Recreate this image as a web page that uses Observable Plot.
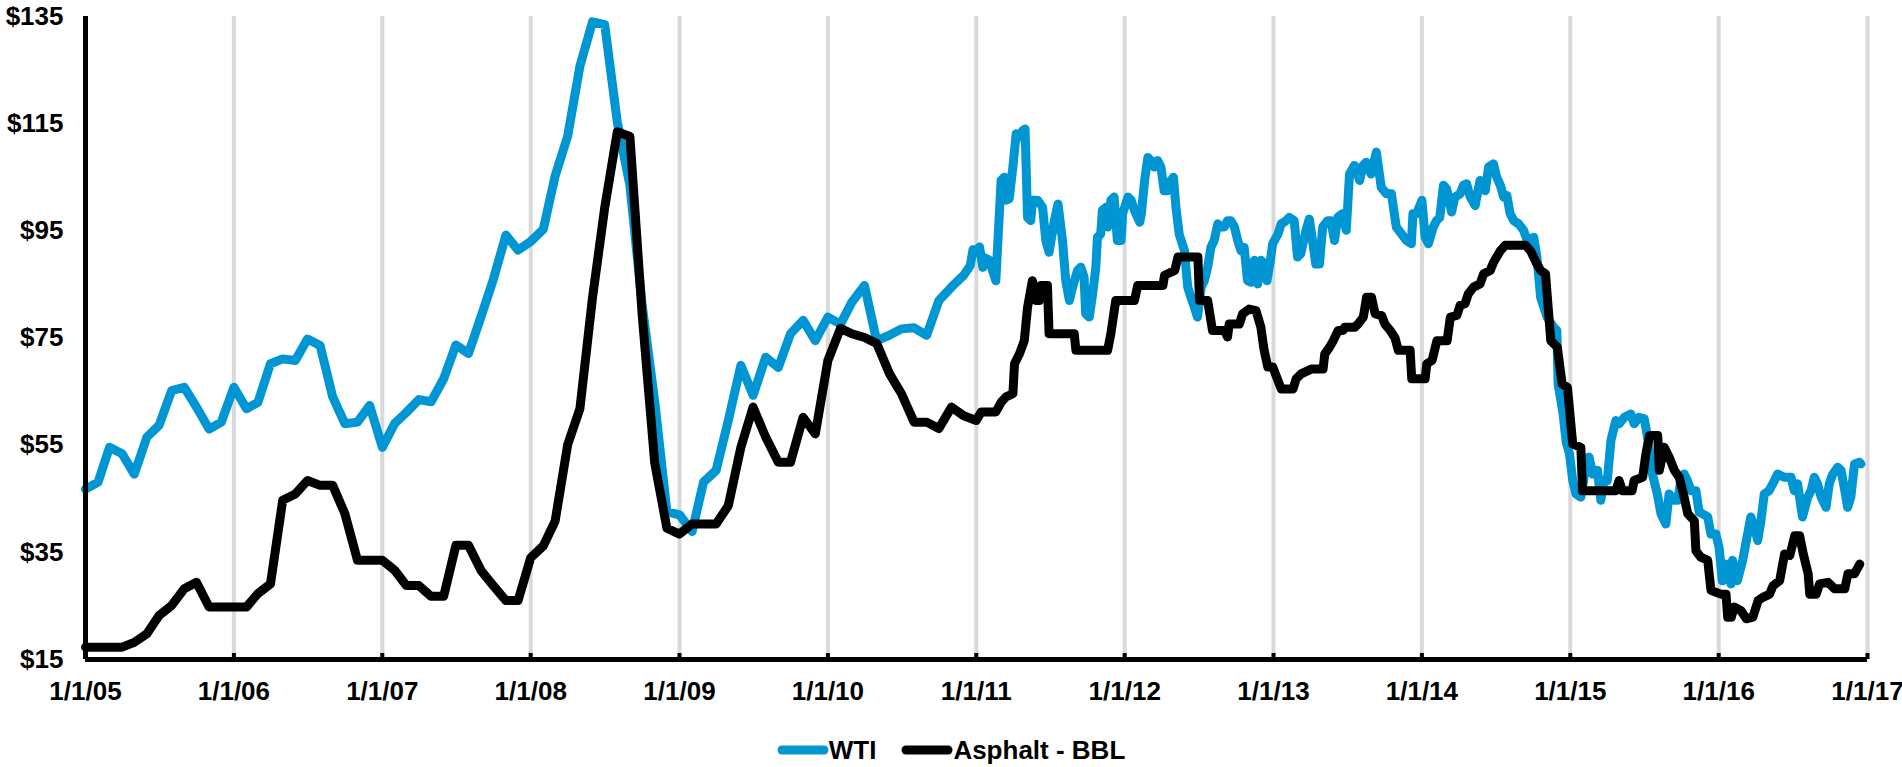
<!DOCTYPE html>
<html>
<head>
<meta charset="utf-8">
<script src="https://cdn.jsdelivr.net/npm/d3@7"></script>
<script src="https://cdn.jsdelivr.net/npm/@observablehq/plot@0.6"></script>
<style>
  html, body { margin: 0; padding: 0; background: #fff; }
  body { font-family: "Liberation Sans", Arial, sans-serif; }
  #legend { display: flex; justify-content: center; align-items: center; height: 30px; line-height: 30px; margin-top: 20px; font-weight: bold; font-size: 26px; color: #000; }
  #legend .item { display: flex; align-items: center; }
  #legend .item + .item { margin-left: 25px; }
  #legend svg { display: block; }
</style>
</head>
<body>
<div id="chart"></div>
<div id="legend"></div>
<script>
// ---- Data ----
const seriesNames = ["WTI", "Asphalt - BBL"];
const seriesColors = ["#0095d3", "#000000"];

const wti = [
  ["2005-01-01",46.8],["2005-02-01",48.1],["2005-03-01",54.6],["2005-04-01",53.4],["2005-05-01",49.6],["2005-06-01",56.5],
  ["2005-07-01",58.7],["2005-08-01",65.2],["2005-09-01",65.8],["2005-10-01",62.1],["2005-11-01",58.0],["2005-12-01",59.3],
  ["2006-01-01",65.8],["2006-02-01",61.8],["2006-03-01",63.0],["2006-04-01",70.2],["2006-05-01",71.1],["2006-06-01",70.8],
  ["2006-07-01",74.8],["2006-08-01",73.6],["2006-09-01",64.0],["2006-10-01",59.0],["2006-11-01",59.3],["2006-12-01",62.4],
  ["2007-01-01",54.6],["2007-02-01",59.1],["2007-03-01",61.1],["2007-04-01",63.5],["2007-05-01",63.1],["2007-06-01",67.4],
  ["2007-07-01",73.7],["2007-08-01",72.1],["2007-09-01",79.0],["2007-10-01",85.9],["2007-11-01",94.2],["2007-12-01",91.4],
  ["2008-01-01",93.0],["2008-02-01",95.3],["2008-03-01",105.2],["2008-04-01",112.7],["2008-05-01",125.7],["2008-06-01",134.0],
  ["2008-07-01",133.5],["2008-08-01",115.3],["2008-09-01",103.5],["2008-10-01",81.3],["2008-11-01",63.2],["2008-12-01",42.6],
  ["2009-01-01",42.0],["2009-02-01",38.9],["2009-03-01",48.1],["2009-04-01",50.3],["2009-05-01",59.6],["2009-06-01",69.9],
  ["2009-07-01",64.3],["2009-08-01",71.4],["2009-09-01",69.5],["2009-10-01",75.8],["2009-11-01",78.3],["2009-12-01",74.5],
  ["2010-01-01",78.9],["2010-02-01",77.6],["2010-03-01",81.7],["2010-04-01",84.8],["2010-05-01",74.5],["2010-06-01",75.5],
  ["2010-07-01",76.7],["2010-08-01",76.9],["2010-09-01",75.5],["2010-10-01",82.0],["2010-11-01",84.5],["2010-12-01",86.7],
  ["2010-12-17",88.5],["2010-12-24",91.5],
  ["2011-01-01",91.0],["2011-01-09",92.0],["2011-01-17",88.2],["2011-01-21",90.0],["2011-02-02",89.5],["2011-02-18",85.7],
  ["2011-03-03",104.4],["2011-03-11",105.0],["2011-03-15",100.7],["2011-03-23",101.0],["2011-04-01",106.9],["2011-04-09",113.1],
  ["2011-04-17",112.5],["2011-04-25",113.7],["2011-05-01",114.0],["2011-05-07",97.5],["2011-05-15",96.9],["2011-05-19",100.7],
  ["2011-06-01",100.7],["2011-06-13",99.4],["2011-06-21",93.2],["2011-06-29",91.0],["2011-07-12",96.9],["2011-07-21",100.0],
  ["2011-08-01",93.2],["2011-08-09",85.7],["2011-08-18",82.0],["2011-08-26",84.5],["2011-09-07",87.6],["2011-09-15",88.2],
  ["2011-09-23",86.4],["2011-09-27",79.5],["2011-10-06",78.9],["2011-10-14",83.2],["2011-10-22",88.2],["2011-10-26",93.8],
  ["2011-11-03",94.4],["2011-11-07",98.8],["2011-11-16",99.4],["2011-11-20",95.7],["2011-11-28",100.7],["2011-12-06",101.3],
  ["2011-12-14",93.2],["2011-12-23",93.2],["2011-12-27",98.2],
  ["2012-01-01",99.4],["2012-01-09",101.3],["2012-01-17",100.7],["2012-01-25",98.8],["2012-02-07",96.6],["2012-02-11",98.2],
  ["2012-02-19",104.4],["2012-02-27",108.7],["2012-03-06",108.1],["2012-03-14",106.9],["2012-03-22",108.1],["2012-03-30",106.9],
  ["2012-04-07",102.5],["2012-04-15",102.5],["2012-04-24",104.4],["2012-04-30",105.0],["2012-05-06",99.4],["2012-05-14",94.4],
  ["2012-05-27",91.3],["2012-06-04",84.5],["2012-06-12",82.6],["2012-06-20",80.8],["2012-06-28",78.9],["2012-07-07",84.5],
  ["2012-07-15",85.7],["2012-07-23",88.2],["2012-07-31",91.9],["2012-08-08",93.2],["2012-08-17",96.3],["2012-08-25",95.7],
  ["2012-09-02",95.7],["2012-09-10",96.9],["2012-09-18",96.9],["2012-09-27",95.7],["2012-10-05",93.2],["2012-10-13",91.3],
  ["2012-10-21",91.9],["2012-10-29",85.7],["2012-11-07",85.4],["2012-11-15",89.5],["2012-11-23",85.1],["2012-12-01",89.5],
  ["2012-12-09",88.8],["2012-12-16",85.7],["2012-12-23",88.8],["2012-12-30",92.6],
  ["2013-01-12",94.4],["2013-01-20",96.3],["2013-02-01",96.9],["2013-02-09",97.5],["2013-02-21",96.9],["2013-03-01",90.1],
  ["2013-03-09",90.7],["2013-03-22",95.1],["2013-03-30",97.2],["2013-04-07",93.2],["2013-04-15",88.8],["2013-04-24",88.8],
  ["2013-05-02",95.7],["2013-05-14",96.9],["2013-05-22",96.9],["2013-05-31",93.2],["2013-06-08",97.5],["2013-06-20",98.2],
  ["2013-06-29",95.1],["2013-07-07",105.6],["2013-07-19",107.2],["2013-08-01",104.4],["2013-08-09",107.2],["2013-08-17",107.8],
  ["2013-08-29",105.6],["2013-09-11",109.7],["2013-09-23",103.1],["2013-10-06",101.9],["2013-10-18",101.9],["2013-10-30",95.7],
  ["2013-11-12",94.4],["2013-11-24",93.2],["2013-12-06",92.6],["2013-12-10",98.2],["2013-12-19",98.2],
  ["2014-01-01",100.7],["2014-01-09",93.8],["2014-01-17",92.6],["2014-01-29",95.7],["2014-02-06",96.9],["2014-02-14",97.5],
  ["2014-02-23",103.5],["2014-03-03",102.8],["2014-03-15",98.5],["2014-03-23",101.3],["2014-04-05",101.9],["2014-04-13",103.5],
  ["2014-04-21",103.8],["2014-04-30",101.3],["2014-05-12",99.7],["2014-05-24",104.4],["2014-06-06",102.5],["2014-06-14",106.9],
  ["2014-06-26",107.5],["2014-07-04",105.0],["2014-07-13",103.5],["2014-07-21",101.3],["2014-07-29",101.6],["2014-08-06",98.2],
  ["2014-08-15",96.9],["2014-08-27",96.3],["2014-09-08",95.1],["2014-09-17",93.2],["2014-10-03",93.8],["2014-10-11",90.1],
  ["2014-10-20",82.6],["2014-10-28",80.7],["2014-11-05",78.9],["2014-11-21",77.0],["2014-11-29",76.4],["2014-12-02",66.4],
  ["2014-12-14",61.0],["2014-12-22",55.5],["2014-12-30",53.4],
  ["2015-01-07",48.4],["2015-01-15",45.9],["2015-01-27",45.3],["2015-02-08",50.9],["2015-02-16",52.8],["2015-02-25",49.6],
  ["2015-03-09",50.3],["2015-03-17",44.7],["2015-03-25",48.4],["2015-04-02",48.4],["2015-04-11",55.9],["2015-04-23",59.6],
  ["2015-05-01",59.0],["2015-05-14",60.2],["2015-05-30",60.8],["2015-06-07",59.0],["2015-06-19",60.2],["2015-07-02",59.9],
  ["2015-07-10",56.5],["2015-07-22",49.6],["2015-08-03",45.9],["2015-08-12",42.2],["2015-08-24",40.3],["2015-09-01",45.9],
  ["2015-09-14",44.7],["2015-09-22",44.7],["2015-09-30",48.4],["2015-10-08",49.6],["2015-10-16",48.4],["2015-10-25",46.5],
  ["2015-11-06",46.5],["2015-11-14",42.5],["2015-11-22",42.2],["2015-12-05",41.6],["2015-12-13",38.4],["2015-12-25",38.4],
  ["2016-01-02",35.9],["2016-01-10",29.7],["2016-01-19",32.8],["2016-01-31",29.1],["2016-02-04",33.5],["2016-02-16",29.7],
  ["2016-02-29",33.5],["2016-03-12",38.4],["2016-03-20",41.6],["2016-03-29",39.7],["2016-04-06",37.2],["2016-04-14",40.9],
  ["2016-04-22",45.9],["2016-05-04",46.5],["2016-05-13",47.8],["2016-05-25",49.6],["2016-06-10",49.0],["2016-06-27",49.0],
  ["2016-07-05",46.5],["2016-07-13",47.8],["2016-07-25",41.6],["2016-08-07",45.3],["2016-08-15",46.5],["2016-08-23",49.0],
  ["2016-08-31",47.8],["2016-09-09",45.3],["2016-09-21",43.4],["2016-09-29",47.8],["2016-10-07",49.5],["2016-10-20",50.9],
  ["2016-10-28",50.3],["2016-11-05",47.0],["2016-11-13",43.4],["2016-11-21",45.3],["2016-11-30",51.5],["2016-12-12",51.8],
  ["2016-12-16",51.5]
];

const asphalt = [
  ["2005-01-01",17.3],["2005-02-01",17.3],["2005-03-01",17.3],["2005-04-01",17.3],["2005-05-01",18.2],["2005-06-01",19.8],
  ["2005-07-01",23.2],["2005-08-01",25.1],["2005-09-01",28.2],["2005-10-01",29.4],["2005-11-01",24.8],["2005-12-01",24.8],
  ["2006-01-01",24.8],["2006-02-01",24.8],["2006-03-01",27.3],["2006-04-01",29.1],["2006-05-01",44.7],["2006-06-01",45.9],
  ["2006-07-01",48.4],["2006-08-01",47.5],["2006-09-01",47.5],["2006-10-01",42.2],["2006-11-01",33.5],["2006-12-01",33.5],
  ["2007-01-01",33.5],["2007-02-01",31.6],["2007-03-01",28.8],["2007-04-01",28.8],["2007-05-01",26.8],["2007-06-01",26.8],
  ["2007-07-01",36.3],["2007-08-01",36.3],["2007-09-01",31.6],["2007-10-01",28.8],["2007-11-01",26.0],["2007-12-01",26.0],
  ["2008-01-01",34.0],["2008-02-01",36.2],["2008-03-01",40.8],["2008-04-01",55.1],["2008-05-01",61.8],["2008-06-01",82.5],
  ["2008-07-01",99.3],["2008-08-01",113.5],["2008-09-01",112.6],["2008-10-01",79.5],["2008-11-01",51.7],["2008-12-01",39.5],
  ["2009-01-01",38.4],["2009-02-01",40.3],["2009-03-01",40.3],["2009-04-01",40.3],["2009-05-01",43.7],["2009-06-01",54.6],
  ["2009-07-01",62.1],["2009-08-01",56.5],["2009-09-01",51.8],["2009-10-01",51.8],["2009-11-01",60.2],["2009-12-01",57.1],
  ["2010-01-01",70.8],["2010-02-01",76.8],["2010-03-01",75.8],["2010-04-01",75.1],["2010-05-01",74.0],["2010-06-01",68.4],
  ["2010-07-01",64.6],["2010-08-01",59.3],["2010-09-01",59.3],["2010-10-01",58.1],["2010-11-01",62.1],["2010-12-01",60.5],
  ["2011-01-01",59.6],["2011-01-13",61.2],["2011-02-18",61.2],["2011-03-03",63.0],["2011-03-15",64.0],["2011-04-01",64.6],
  ["2011-04-05",70.2],["2011-04-17",72.0],["2011-04-29",74.5],["2011-05-07",80.7],["2011-05-19",85.7],["2011-05-28",82.0],
  ["2011-06-05",82.0],["2011-06-09",84.8],["2011-06-25",84.8],["2011-06-29",75.8],["2011-08-30",75.8],["2011-09-03",72.7],
  ["2011-11-20",72.7],["2011-11-28",75.8],["2011-12-10",82.0],
  ["2012-01-25",82.0],["2012-02-02",84.8],["2012-04-04",84.8],["2012-04-08",86.7],["2012-05-03",87.6],["2012-05-11",90.1],
  ["2012-06-29",90.1],["2012-07-03",82.0],["2012-07-23",82.0],["2012-08-04",76.4],["2012-09-02",76.4],["2012-09-10",75.2],
  ["2012-09-14",77.6],["2012-10-09",77.6],["2012-10-17",79.5],["2012-11-02",80.4],["2012-11-19",80.1],["2012-12-01",77.0],
  ["2012-12-09",72.7],["2012-12-18",69.6],["2012-12-30",69.6],
  ["2013-01-20",65.5],["2013-02-18",65.5],["2013-02-26",67.4],["2013-03-10",68.3],["2013-04-04",69.2],["2013-05-03",69.2],
  ["2013-05-07",72.0],["2013-05-19",73.3],["2013-05-28",74.5],["2013-06-09",76.4],["2013-06-21",76.4],["2013-06-25",77.0],
  ["2013-07-20",77.0],["2013-07-28",77.6],["2013-08-10",78.9],["2013-08-18",82.6],["2013-08-30",82.6],["2013-09-08",79.5],
  ["2013-09-24",79.2],["2013-10-02",77.6],["2013-10-15",76.4],["2013-10-27",75.0],["2013-11-04",72.7],["2013-12-03",72.7],
  ["2013-12-07",67.4],
  ["2014-01-09",67.4],["2014-01-13",70.2],["2014-01-26",70.8],["2014-02-07",74.5],["2014-03-04",74.5],["2014-03-12",78.9],
  ["2014-03-28",79.2],["2014-04-05",81.1],["2014-04-17",81.4],["2014-04-25",83.2],["2014-05-08",84.5],["2014-05-24",85.1],
  ["2014-06-02",87.0],["2014-06-18",87.6],["2014-06-26",89.1],["2014-07-13",91.3],["2014-07-25",92.3],["2014-09-13",92.3],
  ["2014-09-25",91.3],["2014-10-11",88.8],["2014-10-20",87.6],["2014-11-01",87.0],["2014-11-14",74.5],["2014-11-30",73.3],
  ["2014-12-12",66.4],["2014-12-25",65.8],
  ["2015-01-07",55.2],["2015-01-27",54.6],["2015-01-31",46.5],["2015-04-23",46.5],["2015-05-01",48.4],["2015-05-09",46.5],
  ["2015-06-02",46.5],["2015-06-07",48.4],["2015-06-28",49.0],["2015-07-06",53.4],["2015-07-15",56.8],["2015-08-04",56.8],
  ["2015-08-08",50.3],["2015-08-20",54.6],["2015-09-01",52.8],["2015-09-14",50.3],["2015-09-26",49.0],["2015-10-08",45.3],
  ["2015-10-17",42.2],["2015-11-02",40.9],["2015-11-06",35.3],["2015-11-18",34.1],["2015-12-05",33.5],["2015-12-13",27.9],
  ["2016-01-06",27.2],["2016-01-19",27.2],["2016-01-23",22.9],["2016-02-01",22.9],["2016-02-08",24.8],["2016-02-25",24.1],
  ["2016-03-09",22.6],["2016-03-25",22.9],["2016-04-07",26.0],["2016-04-19",26.6],["2016-05-05",27.2],["2016-05-14",28.8],
  ["2016-05-30",29.7],["2016-06-11",34.7],["2016-06-24",34.4],["2016-07-06",38.1],["2016-07-18",38.1],["2016-07-27",34.7],
  ["2016-08-08",31.0],["2016-08-12",27.2],["2016-08-28",27.2],["2016-09-05",29.1],["2016-09-26",29.4],["2016-10-12",28.2],
  ["2016-11-06",28.2],["2016-11-14",31.0],["2016-11-30",31.0],["2016-12-13",32.8]
];

const xTickDates = ["2005-01-01","2006-01-01","2007-01-01","2008-01-01","2009-01-01","2010-01-01","2011-01-01",
                    "2012-01-01","2013-01-01","2014-01-01","2015-01-01","2016-01-01","2017-01-01"];
const yTicks = [15, 35, 55, 75, 95, 115, 135];

// ---- Build ----
const parse = d3.utcParse("%Y-%m-%d");
const xTicks = xTickDates.map(parse);
const gridTicks = xTicks.slice(1);
const fmtX = d3.utcFormat("%-m/%-d/%y");
const FONT = '"Liberation Sans", Arial, Helvetica, sans-serif';

const lineOpts = (color) => ({
  x: d => parse(d[0]), y: d => d[1], stroke: color, strokeWidth: 9,
  strokeLinejoin: "round", strokeLinecap: "round"
});

const chart = Plot.plot({
  width: 1902, height: 715,
  marginLeft: 85, marginRight: 35, marginTop: 16, marginBottom: 56,
  style: { fontFamily: FONT, fontSize: "26px", fontWeight: "bold", color: "#000", background: "#fff", overflow: "visible" },
  x: { type: "utc", domain: [xTicks[0], xTicks[xTicks.length - 1]] },
  y: { domain: [yTicks[0], yTicks[yTicks.length - 1]] },
  marks: [
    Plot.ruleX(gridTicks, { stroke: "#d9d9d9", strokeWidth: 4 }),
    Plot.line(wti, lineOpts(seriesColors[0])),
    Plot.line(asphalt, lineOpts(seriesColors[1])),
    Plot.ruleX([xTicks[0]], { stroke: "#000", strokeWidth: 5 }),
    Plot.ruleY([yTicks[0]], { stroke: "#000", strokeWidth: 5 }),
    Plot.axisX(xTicks, { tickSize: -6, strokeWidth: 4, tickFormat: () => "", label: null }),
    Plot.axisX(xTicks, { tickSize: 0, tickPadding: 22, tickFormat: fmtX, label: null, fontSize: 26, fontWeight: "bold", fill: "#000" }),
    Plot.axisY(yTicks, { tickSize: 0, tickPadding: 22, tickFormat: d => "$" + d, label: null, fontSize: 26, fontWeight: "bold", fill: "#000" })
  ]
});
document.getElementById("chart").appendChild(chart);

// ---- Legend ----
const legend = document.getElementById("legend");
seriesNames.forEach((name, i) => {
  const item = document.createElement("div");
  item.className = "item";
  item.innerHTML = `<svg width="52" height="12"><line x1="5" y1="6" x2="47" y2="6" stroke="${seriesColors[i]}" stroke-width="9" stroke-linecap="round"/></svg><span>${name}</span>`;
  legend.appendChild(item);
});
</script>
</body>
</html>
